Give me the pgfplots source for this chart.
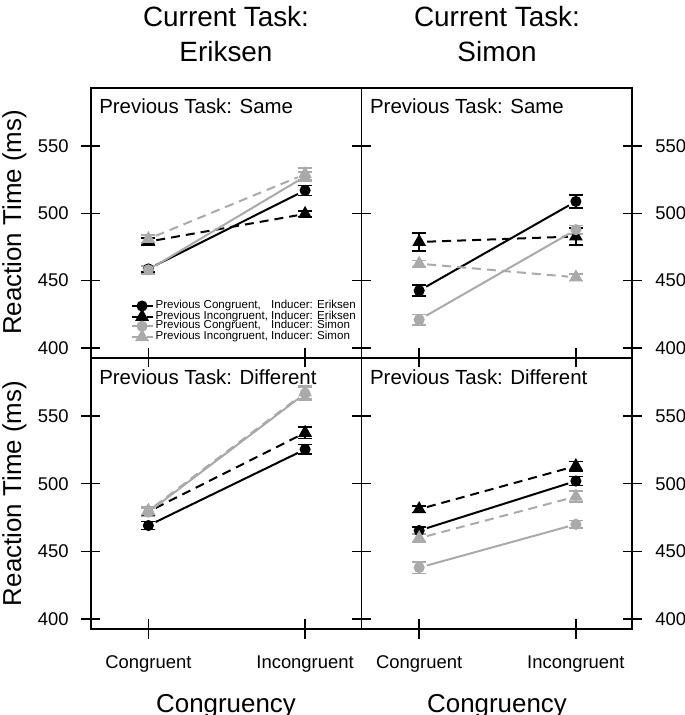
\documentclass[border=0pt]{standalone}
\usepackage{pgfplots}
\pgfplotsset{compat=1.18}
\usepackage{fontspec}
\setmainfont{Liberation Sans}
\definecolor{gr}{RGB}{170,170,170}
\tikzset{
  ptask/.style={font=\fontsize{20.5}{20.5}\selectfont, anchor=base west, inner sep=0pt},
  big/.style={font=\fontsize{28}{28}\selectfont, anchor=base, inner sep=0pt},
  lab/.style={font=\fontsize{26}{26}\selectfont, anchor=base, inner sep=0pt},
}
\pgfplotsset{
  panel/.style={
    scale only axis, width=270.8bp,
    xmin=0.632, xmax=2.36, ymin=392.6, ymax=593,
    xtick={1,2}, ytick={400,450,500,550},
    tick align=center, major tick length=19bp,
    every tick/.style={line width=1.4bp, black},
    axis line style={line width=1.8bp},
    /pgf/number format/assume math mode=true,
    ticklabel style={font=\fontsize{18.5}{18.5}\selectfont},
    xticklabel style={yshift=-14bp},
    xtick pos=left, ytick pos=both,
    clip=false,
  },
  leftp/.style={yticklabel pos=left, yticklabel style={xshift=-9bp}},
  rightp/.style={yticklabel pos=right, yticklabel style={xshift=10bp}},
  err/.style={
    error bars/y dir=both, error bars/y explicit,
    error bars/error bar style={line width=1.6bp, solid, shorten <=0pt, shorten >=0pt},
    error bars/error mark options={rotate=90, mark size=7bp, line width=1.6bp, solid},
  },
  base/.style={line width=2bp, shorten <=8bp, shorten >=8bp, err,
    mark options={solid, shorten <=0pt, shorten >=0pt}},
  bc/.style={base, black, solid, mark=*, mark size=4.5bp},
  bt/.style={base, black, dash pattern=on 9bp off 6bp, mark=triangle*, mark size=6bp},
  gc/.style={base, gr, solid, mark=*, mark size=4.5bp},
  gt/.style={base, gr, dash pattern=on 9bp off 6bp, mark=triangle*, mark size=6bp},
}
\begin{document}
\begin{tikzpicture}[x=1bp,y=1bp]
\path[use as bounding box] (0,0) rectangle (685,715);
% top-left
\begin{axis}[panel, leftp, height=270bp, at={(90.7bp,357bp)}, anchor=south west,
  xticklabels={},
  legend style={at={(axis description cs:0.998,0.052)}, anchor=south east, draw=none, fill=none,
    font=\fontsize{11.6}{11.6}\selectfont, row sep=0pt,
    nodes={inner ysep=0pt, inner xsep=2bp, text height=7bp, text depth=2.5bp}},
  legend cell align=left,
  legend image code/.code={\draw[mark repeat=2,mark phase=2, shorten <=0pt, shorten >=0pt] plot coordinates {(0bp,0bp) (10.5bp,0bp) (21bp,0bp)};}]
\addplot[bc] coordinates {(1,458.7) +- (0,2.5) (2,517) +- (0,3.7)};
\addlegendentry{\rlap{Previous Congruent,}\phantom{Previous Incongruent,} Inducer: Eriksen}
\addplot[bt] coordinates {(1,479) +- (0,2.5) (2,499.5) +- (0,2)};
\addlegendentry{Previous Incongruent, Inducer: Eriksen}
\addplot[gc] coordinates {(1,458) +- (0,3) (2,527.3) +- (0,3.5)};
\addlegendentry{\rlap{Previous Congruent,}\phantom{Previous Incongruent,} Inducer: Simon}
\addplot[gt] coordinates {(1,481) +- (0,3) (2,529) +- (0,4.5)};
\addlegendentry{Previous Incongruent, Inducer: Simon}
\node[ptask] at (axis description cs:0.031,0.904) {Previous Task: Same};
\end{axis}
% top-right
\begin{axis}[panel, rightp, height=270bp, at={(361.5bp,357bp)}, anchor=south west,
  xticklabels={}]
\addplot[bc] coordinates {(1,442.6) +- (0,4.2) (2,508.8) +- (0,4.7)};
\addplot[bt] coordinates {(1,478.7) +- (0,6.8) (2,482.8) +- (0,6.2)};
\addplot[gc] coordinates {(1,421) +- (0,4) (2,487.8) +- (0,3.2)};
\addplot[gt] coordinates {(1,462.6) +- (0,2.5) (2,452.5) +- (0,2.5)};
\node[ptask] at (axis description cs:0.031,0.904) {Previous Task: Same};
\end{axis}
% bottom-left
\begin{axis}[panel, leftp, height=271bp, at={(90.7bp,86bp)}, anchor=south west,
  xticklabels={Congruent,Incongruent}]
\addplot[bc] coordinates {(1,469.1) +- (0,3) (2,525.4) +- (0,3.5)};
\addplot[bt] coordinates {(1,479.4) +- (0,2.5) (2,537.7) +- (0,4.3)};
\addplot[gc] coordinates {(1,479) +- (0,3) (2,566.7) +- (0,5)};
\addplot[gt] coordinates {(1,480) +- (0,3) (2,567.5) +- (0,5)};
\node[ptask] at (axis description cs:0.031,0.904) {Previous Task: Different};
\end{axis}
% bottom-right
\begin{axis}[panel, rightp, height=271bp, at={(361.5bp,86bp)}, anchor=south west,
  xticklabels={Congruent,Incongruent}]
\addplot[bc] coordinates {(1,465.4) +- (0,2.5) (2,502) +- (0,3.3)};
\addplot[bt] coordinates {(1,481.2) +- (0,2.5) (2,513.1) +- (0,3.5)};
\addplot[gc] coordinates {(1,438) +- (0,4.3) (2,470) +- (0,2.8)};
\addplot[gt] coordinates {(1,459.8) +- (0,3) (2,490.5) +- (0,4)};
\node[ptask] at (axis description cs:0.031,0.904) {Previous Task: Different};
\end{axis}
% titles and labels
\node[big] at (226,688) {Current Task:};
\node[big] at (226,653) {Eriksen};
\node[big] at (497,688) {Current Task:};
\node[big] at (497,653) {Simon};
\node[lab, rotate=90] at (21,492.5) {Reaction Time (ms)};
\node[lab, rotate=90] at (21,221.5) {Reaction Time (ms)};
\node[lab] at (226,2) {Congruency};
\node[lab] at (497,2) {Congruency};
\end{tikzpicture}
\end{document}
